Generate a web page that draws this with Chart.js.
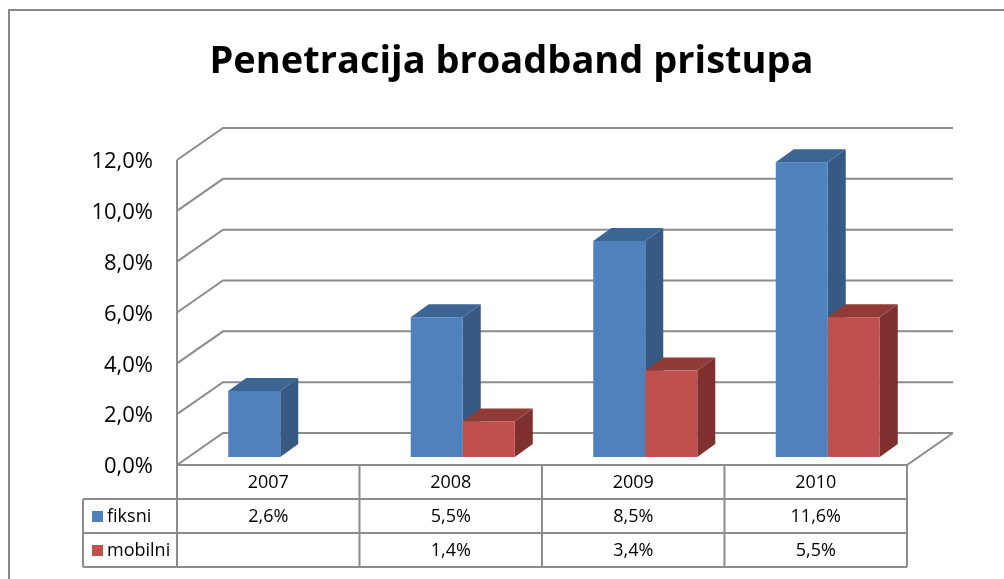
<!DOCTYPE html>
<html>
<head>
<meta charset="utf-8">
<script src="https://cdn.jsdelivr.net/npm/chart.js@4/dist/chart.umd.min.js"></script>
<style>
  html, body { margin: 0; padding: 0; background: #fff; }
  #chart_canvas { display: block; }
</style>
</head>
<body>
<canvas id="chart_canvas" width="1004" height="579"></canvas>
<script>
// Chart data
var years = ['2007', '2008', '2009', '2010'];
var seriesNames = ['fiksni', 'mobilni'];
var fiksni = [2.6, 5.5, 8.5, 11.6];
var mobilni = [null, 1.4, 3.4, 5.5];
var yMin = 0, yMax = 12, yStep = 2;

var FONT = '"Open Sans", "DejaVu Sans", sans-serif';
var LINE = '#8c8c8c';
var WALL_DX = 46, WALL_DY = -32;   // depth of the chart box
var BAR_OX = 12, BAR_OY = -8;      // bar front face sits a bit inside the box
var BAR_DX = 18, BAR_DY = -13;     // bar depth
var shades = [
    {front: '#4f81bd', side: '#375a85', top: '#3d6594'},
    {front: '#c0504d', side: '#7d302e', top: '#903b38'}
];

function fmt(v) {
    return v.toFixed(1).replace('.', ',') + '%';
}

(function () {
    /**
     * Draw the back wall, left wall and floor lines
     */
    function drawWalls(chart) {
        var ctx = chart.ctx, area = chart.chartArea, y = chart.scales.y;
        ctx.save();
        ctx.strokeStyle = LINE;
        ctx.lineWidth = 2;
        ctx.beginPath();
        y.ticks.forEach(function (t) {
            var py = y.getPixelForValue(t.value);
            ctx.moveTo(area.left, py);
            ctx.lineTo(area.left + WALL_DX, py + WALL_DY);
            ctx.lineTo(area.right + WALL_DX, py + WALL_DY);
        });
        ctx.moveTo(area.left, area.top);
        ctx.lineTo(area.left, area.bottom);
        ctx.lineTo(area.right, area.bottom);
        ctx.lineTo(area.right + WALL_DX, area.bottom + WALL_DY);
        ctx.stroke();
        ctx.restore();
    }

    /**
     * Paint bars as boxes, left to right so the nearer ones cover the sides
     */
    function drawBars(chart) {
        var ctx = chart.ctx;
        ctx.save();
        for (var i = 0; i < years.length; i++) {
            chart.data.datasets.forEach(function (ds, d) {
                var el = chart.getDatasetMeta(d).data[i];
                if (ds.data[i] === null || !el) return;
                var L = el.x - el.width / 2 + BAR_OX, R = L + el.width;
                var T = el.y + BAR_OY, B = el.base + BAR_OY;
                var c = shades[d];
                ctx.fillStyle = c.side;
                ctx.beginPath();
                ctx.moveTo(R, T); ctx.lineTo(R + BAR_DX, T + BAR_DY);
                ctx.lineTo(R + BAR_DX, B + BAR_DY); ctx.lineTo(R, B);
                ctx.closePath(); ctx.fill();
                ctx.fillStyle = c.top;
                ctx.beginPath();
                ctx.moveTo(L, T); ctx.lineTo(L + BAR_DX, T + BAR_DY);
                ctx.lineTo(R + BAR_DX, T + BAR_DY); ctx.lineTo(R, T);
                ctx.closePath(); ctx.fill();
                ctx.fillStyle = c.front;
                ctx.fillRect(L, T, R - L, B - T);
            });
        }
        ctx.restore();
    }

    /**
     * Data table under the floor, columns follow the category scale
     */
    function drawTable(chart) {
        var ctx = chart.ctx, area = chart.chartArea, x = chart.scales.x;
        var half = (x.getPixelForValue(1) - x.getPixelForValue(0)) / 2;
        var top = area.bottom, rowH = 34, legLeft = 83;
        var rows = [fiksni, mobilni];
        ctx.save();
        ctx.strokeStyle = LINE;
        ctx.lineWidth = 2;
        ctx.beginPath();
        // horizontal lines
        ctx.moveTo(area.left, top); ctx.lineTo(area.right, top);
        for (var r = 1; r <= 3; r++) {
            ctx.moveTo(legLeft, top + r * rowH);
            ctx.lineTo(area.right, top + r * rowH);
        }
        // vertical lines
        ctx.moveTo(legLeft, top + rowH); ctx.lineTo(legLeft, top + 3 * rowH);
        for (var i = 0; i < years.length; i++) {
            var cx = x.getPixelForValue(i);
            ctx.moveTo(cx - half, top); ctx.lineTo(cx - half, top + 3 * rowH);
        }
        ctx.moveTo(area.right, top); ctx.lineTo(area.right, top + 3 * rowH);
        ctx.stroke();

        ctx.fillStyle = '#000';
        ctx.font = '18px ' + FONT;
        ctx.textAlign = 'center';
        ctx.textBaseline = 'middle';
        years.forEach(function (yr, i) {
            var cx = x.getPixelForValue(i);
            ctx.fillText(yr, cx, top + rowH / 2 + 1);
            rows.forEach(function (vals, r) {
                if (vals[i] !== null) ctx.fillText(fmt(vals[i]), cx, top + (r + 1.5) * rowH + 1);
            });
        });
        // row headers with colour keys
        ctx.textAlign = 'left';
        seriesNames.forEach(function (name, r) {
            var my = top + (r + 1.5) * rowH;
            ctx.fillStyle = shades[r].front;
            ctx.fillRect(legLeft + 9, my - 5, 11, 11);
            ctx.fillStyle = '#000';
            ctx.fillText(name, legLeft + 24, my + 1);
        });
        ctx.restore();
    }

    var depthPlugin = {
        id: 'depth3d',
        afterLayout: function (chart) {
            // centre the title on the whole frame, not on the padded box
            chart.titleBlock.left = 19;
            chart.titleBlock.right = chart.width;
        },
        beforeDraw: function (chart) {
            var ctx = chart.ctx;
            ctx.save();
            ctx.strokeStyle = '#888';
            ctx.lineWidth = 2;
            ctx.beginPath();
            ctx.moveTo(9, chart.height);
            ctx.lineTo(9, 10);
            ctx.lineTo(chart.width, 10);
            ctx.stroke();
            ctx.restore();
        },
        beforeDatasetsDraw: function (chart) {
            drawWalls(chart);
            drawBars(chart);
            drawTable(chart);
            return false;
        }
    };

    var ctx = document.getElementById('chart_canvas').getContext('2d');
    new Chart(ctx, {
        type: 'bar',
        data: {
            labels: years,
            datasets: [
                {label: seriesNames[0], data: fiksni, backgroundColor: shades[0].front},
                {label: seriesNames[1], data: mobilni, backgroundColor: shades[1].front}
            ]
        },
        options: {
            responsive: false,
            animation: false,
            devicePixelRatio: 1,
            layout: {padding: {left: 20, right: 97, top: 0, bottom: 114}},
            datasets: {bar: {categoryPercentage: 0.57, barPercentage: 1}},
            plugins: {
                legend: {display: false},
                tooltip: {enabled: false},
                title: {
                    display: true,
                    text: 'Penetracija broadband pristupa',
                    color: '#000',
                    font: {family: FONT, size: 38, weight: 'bold'},
                    padding: {top: 39, bottom: 75.4}
                }
            },
            scales: {
                x: {display: false},
                y: {
                    min: yMin, max: yMax,
                    afterFit: function (s) { s.width = 157; },
                    grid: {display: false, drawTicks: false},
                    border: {display: false},
                    ticks: {
                        stepSize: yStep,
                        padding: 24,
                        labelOffset: 2,
                        color: '#000',
                        font: {family: FONT, size: 22},
                        callback: function (v) { return fmt(v); }
                    }
                }
            }
        },
        plugins: [depthPlugin]
    });
})();
</script>
</body>
</html>
